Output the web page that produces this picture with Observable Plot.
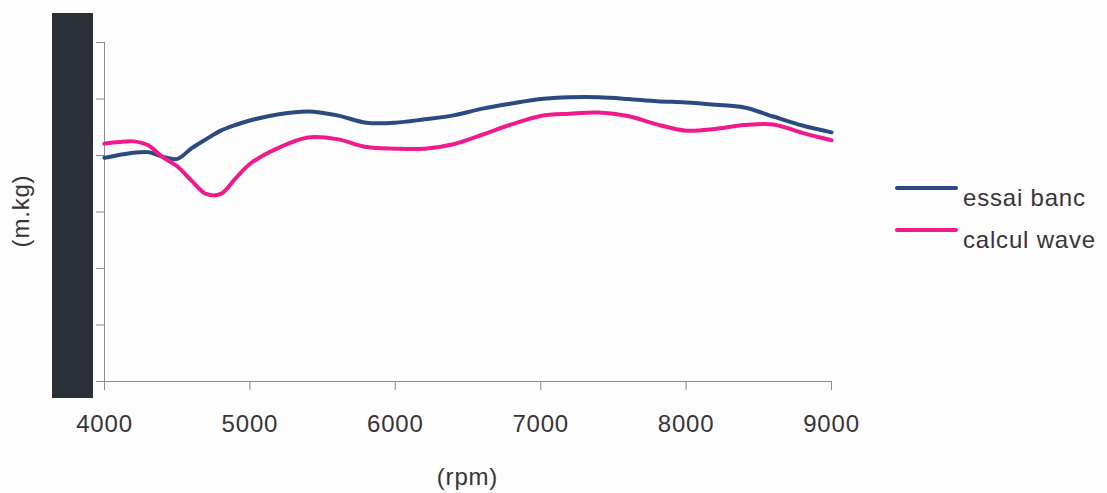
<!DOCTYPE html>
<html>
<head>
<meta charset="utf-8">
<script src="https://cdn.jsdelivr.net/npm/d3@7"></script>
<script src="https://cdn.jsdelivr.net/npm/@observablehq/plot@0.6"></script>
<style>
  html, body { margin: 0; padding: 0; background: #fdfdfd; }
  #wrap { position: relative; width: 1107px; height: 493px; overflow: hidden; font-family: "Liberation Sans", Arial, sans-serif; color: #3a3337; }
  .lbl { position: absolute; font-size: 24px; letter-spacing: 0.8px; white-space: nowrap; line-height: 1; }
  #bar { position: absolute; left: 52px; top: 13px; width: 41px; height: 385px; background: #2b2f36; }
  .sw { position: absolute; height: 4px; width: 63px; border-radius: 2px; }
</style>
</head>
<body>
<div id="wrap"></div>
<script>
// rpm values shared by both series
const rpm = [4000, 4100, 4200, 4300, 4400, 4500, 4600, 4700, 4800, 4900, 5000,
             5200, 5400, 5600, 5800, 6000, 6200, 6400, 6600, 6800, 7000,
             7200, 7400, 7600, 7800, 8000, 8200, 8400, 8600, 8800, 9000];
// torque (m.kg) – test bench
const essaiBanc = [3.96, 4.01, 4.05, 4.06, 3.98, 3.94, 4.13, 4.29, 4.44, 4.54, 4.62,
                   4.73, 4.78, 4.71, 4.58, 4.58, 4.64, 4.71, 4.83, 4.92, 5.00,
                   5.03, 5.03, 5.00, 4.96, 4.94, 4.90, 4.85, 4.69, 4.53, 4.41];
// torque (m.kg) – WAVE calculation
const calculWave = [4.21, 4.24, 4.25, 4.18, 3.97, 3.81, 3.55, 3.32, 3.32, 3.59, 3.85,
                    4.14, 4.32, 4.29, 4.15, 4.12, 4.12, 4.20, 4.37, 4.55, 4.70,
                    4.74, 4.76, 4.70, 4.55, 4.44, 4.47, 4.54, 4.55, 4.40, 4.27];
const seriesNames = ["essai banc", "calcul wave"];
const seriesColors = ["#2c4a82", "#f01a8c"];
const xTicks = [4000, 5000, 6000, 7000, 8000, 9000];
const yTicks = [0, 1, 2, 3, 4, 5, 6];
const xLabel = "(rpm)";
const yLabel = "(m.kg)";

const rows = [];
rpm.forEach((r, i) => {
  rows.push({rpm: r, torque: essaiBanc[i], series: seriesNames[0]});
  rows.push({rpm: r, torque: calculWave[i], series: seriesNames[1]});
});

const axisGray = "#8c8c92";
const textCol = "#3a3337";

const chart = Plot.plot({
  width: 1107,
  height: 493,
  marginLeft: 104,
  marginRight: 276,
  marginTop: 42,
  marginBottom: 112,
  style: {background: "transparent", fontFamily: "'Liberation Sans', Arial, sans-serif", fontSize: "24px", letterSpacing: "0.8px"},
  x: {domain: [4000, 9000], label: null},
  y: {domain: [0, 6], label: null},
  color: {domain: seriesNames, range: seriesColors},
  marks: [
    Plot.ruleX([4000], {stroke: axisGray, strokeWidth: 1}),
    Plot.ruleY([0], {stroke: axisGray, strokeWidth: 1}),
    Plot.axisY({ticks: yTicks, tickSize: 8, tickFormat: () => "", stroke: axisGray, label: null}),
    Plot.axisX({ticks: xTicks, tickSize: 9, tickFormat: () => "", stroke: axisGray, label: null}),
    Plot.axisX({ticks: xTicks, tickSize: 0, tickPadding: 33, tickFormat: d => String(d), fill: textCol, fontSize: 24, label: null}),
    Plot.line(rows, {x: "rpm", y: "torque", z: "series", stroke: "series", strokeWidth: 4, curve: "catmull-rom"})
  ]
});

const wrap = document.getElementById("wrap");
wrap.appendChild(chart);

const bar = document.createElement("div");
bar.id = "bar";
wrap.appendChild(bar);

function addLabel(text, left, top, extra) {
  const d = document.createElement("div");
  d.className = "lbl";
  d.textContent = text;
  d.style.left = left + "px";
  d.style.top = top + "px";
  if (extra) Object.assign(d.style, extra);
  wrap.appendChild(d);
  return d;
}
// x label centred under the plot area
const xl = addLabel(xLabel, 0, 465);
xl.style.left = (467.5 - xl.getBoundingClientRect().width / 2) + "px";
// y label rotated
const yl = addLabel(yLabel, 0, 0);
const yw = yl.getBoundingClientRect().width, yh = yl.getBoundingClientRect().height;
yl.style.left = (21 - yw / 2) + "px";
yl.style.top = (211 - yh / 2) + "px";
yl.style.transform = "rotate(-90deg)";

// legend
const legendTop = [188, 230];
seriesNames.forEach((name, i) => {
  const sw = document.createElement("div");
  sw.className = "sw";
  sw.style.left = "895px";
  sw.style.top = (legendTop[i] - 2) + "px";
  sw.style.background = seriesColors[i];
  wrap.appendChild(sw);
  addLabel(name, 963, legendTop[i] - 2);
});
</script>
</body>
</html>
